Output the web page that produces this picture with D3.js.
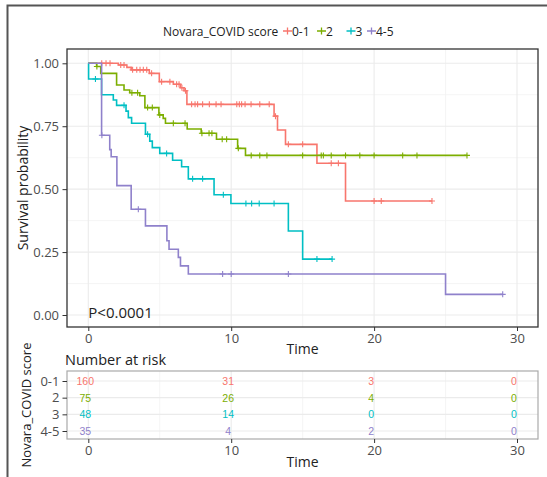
<!DOCTYPE html>
<html>
<head>
<meta charset="utf-8">
<script src="https://cdn.jsdelivr.net/npm/d3@7"></script>
<style>
  body { margin: 0; background: #fff; }
  text { font-family: "Open Sans", "Noto Sans", sans-serif; }
</style>
</head>
<body>
<script>
// groups and colours
var groups = ["0-1", "2", "3", "4-5"];
var colors = ["#F8766D", "#7CAE00", "#00BFC4", "#8F81CB"];

// Kaplan-Meier steps (event time, survival after it)
var time01 = [2.1, 2.7, 3.0, 4.27, 4.97, 5.95, 6.45, 6.7, 6.9, 13.0, 13.24, 13.8, 16.0, 18.0];
var surv01 = [0.993, 0.984, 0.974, 0.96, 0.927, 0.917, 0.903, 0.891, 0.837, 0.79, 0.735, 0.678, 0.603, 0.453];
var cens01 = [0.94, 1.24, 1.52, 2.27, 2.5, 3.1, 3.39, 3.62, 3.85, 4.09, 4.43, 5.13, 5.71, 6.18, 6.35, 6.55, 6.8,
              7.23, 7.47, 7.65, 8.0, 8.47, 8.94, 9.29, 10.39, 10.57, 10.73, 10.97, 11.39, 12.0, 12.66,
              13.1, 14.0, 15.0, 17.0, 17.5, 20.0, 20.5];
var end01 = 24.05;

var time2 = [0.58, 0.87, 1.98, 2.5, 2.9, 3.6, 3.96, 4.94, 5.24, 5.4, 6.92, 7.9, 8.97, 10.45, 11.0];
var surv2 = [0.987, 0.96, 0.914, 0.894, 0.883, 0.871, 0.824, 0.795, 0.781, 0.762, 0.739, 0.722, 0.698, 0.662, 0.634];
var cens2 = [0.6, 3.05, 3.45, 4.15, 4.48, 5.0, 5.95, 6.77, 7.95, 8.45, 8.65, 9.37, 9.68, 10.5,
             11.4, 12.0, 12.5, 15.0, 16.3, 16.45, 17.0, 18.0, 19.0, 20.0, 22.0, 23.0];
var end2 = 26.5;

var time3 = [0.02, 0.93, 1.75, 1.98, 2.64, 2.8, 3.03, 4.0, 4.3, 4.48, 5.0, 5.9, 6.53, 7.0, 8.8, 9.98, 14.0, 15.0];
var surv3 = [0.9375, 0.875, 0.854, 0.833, 0.81, 0.784, 0.762, 0.718, 0.691, 0.665, 0.642, 0.615, 0.589, 0.541, 0.478, 0.443, 0.334, 0.222];
var cens3 = [0.5, 2.5, 4.15, 5.48, 7.3, 8.0, 9.45, 11.03, 11.43, 11.96, 13.0, 16.0];
var end3 = 17.06;

var time45 = [0.93, 1.5, 1.6, 2.0, 3.0, 4.0, 5.5, 5.65, 6.3, 6.45, 7.0, 25.0];
var surv45 = [0.714, 0.657, 0.629, 0.514, 0.42, 0.354, 0.295, 0.261, 0.229, 0.195, 0.163, 0.082];
var cens45 = [0.95, 3.5, 9.4, 10.0, 14.0];
var end45 = 29.0;

// number at risk
var riskTimes = [0, 10, 20, 30];
var risk01 = [160, 31, 3, 0];
var risk2 = [75, 26, 4, 0];
var risk3 = [48, 14, 0, 0];
var risk45 = [35, 4, 2, 0];

var xTicks = [0, 10, 20, 30];
var yTicks = [0, 0.25, 0.5, 0.75, 1];

var curves = [
  {times: time01, surv: surv01, cens: cens01, end: end01},
  {times: time2, surv: surv2, cens: cens2, end: end2},
  {times: time3, surv: surv3, cens: cens3, end: end3},
  {times: time45, surv: surv45, cens: cens45, end: end45}
];
var risks = [risk01, risk2, risk3, risk45];

var W = 547, H = 477;
var svg = d3.select("body").append("svg")
            .attr("width", W)
            .attr("height", H);

svg.append("rect").attr("width", W).attr("height", H).attr("fill", "#fff");

// outer frame (top + left edge visible)
svg.append("path")
   .attr("d", "M7.5,477 V5.5 H547")
   .attr("fill", "none")
   .attr("stroke", "#555")
   .attr("stroke-width", 2);

var panel = {left: 67, top: 49, right: 538, bottom: 327};

var xScale = d3.scaleLinear()
               .domain([0, 30])
               .range([88.3, 517]);
var yScale = d3.scaleLinear()
               .domain([0, 1])
               .range([315, 63.3]);

// grid
var grid = svg.append("g");
[5, 15, 25].forEach(function(t){
  grid.append("line").attr("x1", xScale(t)).attr("x2", xScale(t))
      .attr("y1", panel.top).attr("y2", panel.bottom)
      .attr("stroke", "#f3f3f3").attr("stroke-width", 0.8);
});
[0.125, 0.375, 0.625, 0.875].forEach(function(s){
  grid.append("line").attr("y1", yScale(s)).attr("y2", yScale(s))
      .attr("x1", panel.left).attr("x2", panel.right)
      .attr("stroke", "#f3f3f3").attr("stroke-width", 0.8);
});
xTicks.forEach(function(t){
  grid.append("line").attr("x1", xScale(t)).attr("x2", xScale(t))
      .attr("y1", panel.top).attr("y2", panel.bottom)
      .attr("stroke", "#ebebeb").attr("stroke-width", 1.1);
});
yTicks.forEach(function(s){
  grid.append("line").attr("y1", yScale(s)).attr("y2", yScale(s))
      .attr("x1", panel.left).attr("x2", panel.right)
      .attr("stroke", "#ebebeb").attr("stroke-width", 1.1);
});

// survival curves
var stepAt = function(c, t){
  var s = 1;
  for (var i = 0; i < c.times.length; i++) {
    if (c.times[i] <= t) s = c.surv[i];
  }
  return s;
};

var line = d3.line()
             .x(function(d){ return xScale(d[0]); })
             .y(function(d){ return yScale(d[1]); })
             .curve(d3.curveStepAfter);

var plot = svg.append("g");
curves.forEach(function(c, i){
  var pts = [[0, 1]];
  c.times.forEach(function(t, j){ pts.push([t, c.surv[j]]); });
  pts.push([c.end, c.surv[c.surv.length - 1]]);
  plot.append("path")
      .attr("d", line(pts))
      .attr("fill", "none")
      .attr("stroke", colors[i])
      .attr("stroke-width", 1.6);
  var marks = c.cens.concat([c.end]);
  plot.selectAll(null)
      .data(marks)
      .enter()
      .append("path")
      .attr("d", function(t){
        var px = xScale(t), py = yScale(stepAt(c, t));
        return "M" + (px - 3) + "," + py + "H" + (px + 3) + "M" + px + "," + (py - 3) + "V" + (py + 3);
      })
      .attr("stroke", colors[i])
      .attr("stroke-width", 1.1)
      .attr("fill", "none");
});

// panel border
svg.append("rect")
   .attr("x", panel.left).attr("y", panel.top)
   .attr("width", panel.right - panel.left)
   .attr("height", panel.bottom - panel.top)
   .attr("fill", "none")
   .attr("stroke", "#333")
   .attr("stroke-width", 1.3);

// axes
var yAxis = d3.axisLeft(yScale)
              .tickValues(yTicks)
              .tickFormat(d3.format(".2f"))
              .tickSize(4.5)
              .tickPadding(3.5);
var xAxis = d3.axisBottom(xScale)
              .tickValues(xTicks)
              .tickSize(4)
              .tickPadding(2.5);

var gy = svg.append("g")
   .attr("transform", "translate(" + panel.left + ",0)")
   .call(yAxis);
var gx = svg.append("g")
   .attr("transform", "translate(0," + panel.bottom + ")")
   .call(xAxis);
[gx, gy].forEach(function(g){
  g.select(".domain").remove();
  g.selectAll("line").attr("stroke", "#333");
  g.selectAll("text").attr("fill", "#4d4d4d")
   .style("font-size", "13px")
   .style("font-family", "'Open Sans', sans-serif");
});

svg.append("text")
   .attr("transform", "translate(22," + ((panel.top + panel.bottom) / 2) + ") rotate(-90)")
   .attr("text-anchor", "middle")
   .attr("dominant-baseline", "central")
   .attr("fill", "#222")
   .style("font-size", "14px")
   .text("Survival probability");

svg.append("text")
   .attr("x", (panel.left + panel.right) / 2)
   .attr("y", 354)
   .attr("text-anchor", "middle")
   .attr("fill", "#222")
   .style("font-size", "14px")
   .text("Time");

svg.append("text")
   .attr("x", xScale(0))
   .attr("y", 318)
   .attr("fill", "#222")
   .style("font-size", "15px")
   .text("P<0.0001");

// legend
var legend = svg.append("g");
legend.append("text")
      .attr("x", 163).attr("y", 35.5)
      .attr("fill", "#222")
      .style("font-size", "12px")
      .text("Novara_COVID score");
var keyX = [287.5, 321.5, 351, 371.5];
groups.forEach(function(g, i){
  var kx = keyX[i];
  legend.append("path")
        .attr("d", "M" + (kx - 4.5) + ",31H" + (kx + 4.5) + "M" + kx + ",27.5V34.5")
        .attr("stroke", colors[i])
        .attr("stroke-width", 1.3);
  legend.append("text")
        .attr("x", kx + 4.5).attr("y", 35.5)
        .attr("fill", "#222")
        .style("font-size", "12px")
        .text(g);
});

// risk table
var table = {left: 67, top: 371, right: 538, bottom: 439};
var rowScale = d3.scalePoint()
                 .domain(groups)
                 .range([381, 431]);

svg.append("text")
   .attr("x", 65).attr("y", 365)
   .attr("fill", "#222")
   .style("font-size", "14.5px")
   .text("Number at risk");

var tgrid = svg.append("g");
[5, 15, 25].forEach(function(t){
  tgrid.append("line").attr("x1", xScale(t)).attr("x2", xScale(t))
       .attr("y1", table.top).attr("y2", table.bottom)
       .attr("stroke", "#f3f3f3").attr("stroke-width", 0.8);
});
xTicks.forEach(function(t){
  tgrid.append("line").attr("x1", xScale(t)).attr("x2", xScale(t))
       .attr("y1", table.top).attr("y2", table.bottom)
       .attr("stroke", "#ebebeb").attr("stroke-width", 1.1);
});
groups.forEach(function(g){
  tgrid.append("line").attr("y1", rowScale(g)).attr("y2", rowScale(g))
       .attr("x1", table.left).attr("x2", table.right)
       .attr("stroke", "#ebebeb").attr("stroke-width", 1.1);
});

svg.append("rect")
   .attr("x", table.left).attr("y", table.top)
   .attr("width", table.right - table.left)
   .attr("height", table.bottom - table.top)
   .attr("fill", "none")
   .attr("stroke", "#aaa")
   .attr("stroke-width", 1.2);

groups.forEach(function(g, i){
  svg.selectAll(null)
     .data(risks[i])
     .enter()
     .append("text")
     .attr("x", function(d, j){ return xScale(riskTimes[j]) - 3; })
     .attr("y", rowScale(g))
     .attr("text-anchor", "middle")
     .attr("dominant-baseline", "central")
     .attr("fill", colors[i])
     .style("font-family", "'Liberation Sans', Arial, sans-serif")
     .style("font-size", "10.5px")
     .text(function(d){ return d; });
});

var rowAxis = d3.axisLeft(rowScale).tickSize(4.5).tickPadding(3);
var gr = svg.append("g")
   .attr("transform", "translate(" + table.left + ",0)")
   .call(rowAxis);
var gtx = svg.append("g")
   .attr("transform", "translate(0," + table.bottom + ")")
   .call(xAxis);
[gr, gtx].forEach(function(g){
  g.select(".domain").remove();
  g.selectAll("line").attr("stroke", "#333");
  g.selectAll("text").attr("fill", "#4d4d4d")
   .style("font-size", "13px")
   .style("font-family", "'Open Sans', sans-serif");
});

svg.append("text")
   .attr("x", (panel.left + panel.right) / 2)
   .attr("y", 467)
   .attr("text-anchor", "middle")
   .attr("fill", "#222")
   .style("font-size", "14px")
   .text("Time");

svg.append("text")
   .attr("transform", "translate(26,405) rotate(-90)")
   .attr("text-anchor", "middle")
   .attr("dominant-baseline", "central")
   .attr("fill", "#222")
   .style("font-size", "13px")
   .text("Novara_COVID score");
</script>
</body>
</html>
